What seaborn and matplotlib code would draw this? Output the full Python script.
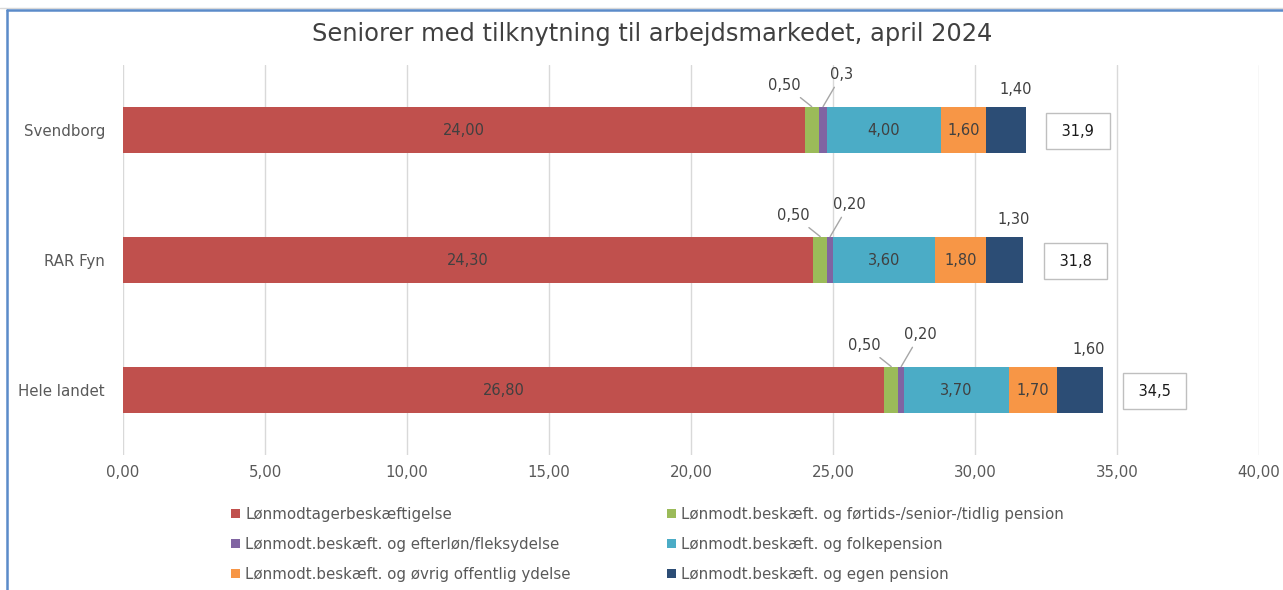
import matplotlib
matplotlib.use("Agg")
import matplotlib.pyplot as plt
from matplotlib.lines import Line2D
from matplotlib.patches import Patch
import seaborn as sns
import pandas as pd
import numpy as np

# ---------------- data ----------------
categories = ["Svendborg", "RAR Fyn", "Hele landet"]
series_names = [
    "Lønmodtagerbeskæftigelse",
    "Lønmodt.beskæft. og førtids-/senior-/tidlig pension",
    "Lønmodt.beskæft. og efterløn/fleksydelse",
    "Lønmodt.beskæft. og folkepension",
    "Lønmodt.beskæft. og øvrig offentlig ydelse",
    "Lønmodt.beskæft. og egen pension",
]
loen = [24.00, 24.30, 26.80]
foertid = [0.50, 0.50, 0.50]
efterloen = [0.3, 0.20, 0.20]
folkepension = [4.00, 3.60, 3.70]
oevrig = [1.60, 1.80, 1.70]
egen = [1.40, 1.30, 1.60]
totals = [31.9, 31.8, 34.5]
label_override = {(0, 2): "0,3"}
x_ticks = [0, 5, 10, 15, 20, 25, 30, 35, 40]
title = "Seniorer med tilknytning til arbejdsmarkedet, april 2024"

# ---------------- style ----------------
colors = ["#C0504D", "#9BBB59", "#8064A2", "#4BACC6", "#F79646", "#2C4D75"]
label_style = ["in", "above_left", "above_right", "in", "in", "above"]
txt_col = "#404040"

sns.set_theme(style="white")
plt.rcParams["font.family"] = ["DejaVu Sans"]

series = [loen, foertid, efterloen, folkepension, oevrig, egen]
df = pd.DataFrame({"category": categories})
for name, vals in zip(series_names, series):
    df[name] = vals
cum = df[series_names].cumsum(axis=1)

fig = plt.figure(figsize=(12.83, 5.90), dpi=100)
ax = fig.add_axes([123 / 1283, 1 - 455 / 590, (1259 - 123) / 1283, (455 - 65) / 590])

# draw cumulative bars from the last series to the first (stacked look)
for i in reversed(range(len(series_names))):
    sns.barplot(data=cum.assign(category=categories), x=series_names[i], y=categories,
                orient="h", color=colors[i], saturation=1, width=0.36,
                linewidth=0, ax=ax)

ax.set_xlim(0, 40)
ax.set_ylim(2.5, -0.5)
ax.set_xticks(x_ticks)
ax.set_xticklabels([f"{v:.2f}".replace(".", ",") for v in x_ticks],
                   fontsize=10.8, color="#595959")
ax.set_yticklabels(categories, fontsize=10.8, color="#595959")
ax.tick_params(axis="both", length=0)
ax.tick_params(axis="x", pad=7)
ax.tick_params(axis="y", pad=13)
ax.set_xlabel("")
ax.set_ylabel("")
ax.grid(axis="x", color="#D9D9D9", linewidth=1)
ax.set_axisbelow(True)
for s in ax.spines.values():
    s.set_visible(False)

bar_half = 0.18
offsets = {"above_left": (-27, 14), "above_right": (19, 25), "above": (9, 10)}
for ci in range(len(categories)):
    start = 0.0
    for si, vals in enumerate(series):
        v = vals[ci]
        mid = start + v / 2
        lab = label_override.get((ci, si), f"{v:.2f}".replace(".", ","))
        style = label_style[si]
        if style == "in":
            ax.text(mid, ci, lab, ha="center", va="center", fontsize=10.5, color=txt_col)
        else:
            dx, dy = offsets[style]
            ap = None if style == "above" else dict(arrowstyle="-", color="#A6A6A6",
                                                     lw=1, shrinkA=2, shrinkB=0)
            ax.annotate(lab, xy=(mid, ci - bar_half), xytext=(dx, dy),
                        textcoords="offset pixels", ha="center", va="bottom",
                        fontsize=10.5, color=txt_col, arrowprops=ap)
        start += v
    end = start
    ax.annotate(" " + f"{totals[ci]:.1f}".replace(".", ",") + " ", xy=(end, ci),
                xytext=(52, -1), textcoords="offset pixels", ha="center", va="center",
                fontsize=10.5, color="#1a1a1a",
                bbox=dict(boxstyle="square,pad=0.75", fc="white", ec="#BFBFBF", lw=1))

fig.text(652 / 1283, 1 - 34 / 590, title, ha="center", va="center",
         fontsize=17.4, color="#404040")

handles = [Patch(facecolor=c, edgecolor="none") for c in colors]
order = [0, 2, 4, 1, 3, 5]
fig.legend([handles[i] for i in order], [series_names[i] for i in order],
           loc="upper left", bbox_to_anchor=(231 / 1283, 1 - 507 / 590), ncol=2,
           frameon=False, fontsize=10.8, labelcolor="#595959",
           handlelength=0.6, handleheight=0.6, handletextpad=0.35,
           columnspacing=6.4, labelspacing=1.0, borderaxespad=0, borderpad=0)

# chart frame lines (cropped screenshot border)
fig.add_artist(Line2D([0, 1], [1 - 8 / 590, 1 - 8 / 590], transform=fig.transFigure,
                      color="#D9D9D9", lw=1))
fig.add_artist(Line2D([7 / 1283, 1], [1 - 10 / 590, 1 - 10 / 590], transform=fig.transFigure,
                      color="#5B8BC9", lw=1.8))
fig.add_artist(Line2D([7 / 1283, 7 / 1283], [0, 1 - 10 / 590], transform=fig.transFigure,
                      color="#5B8BC9", lw=1.8))

fig.savefig("out.png", dpi=100)
